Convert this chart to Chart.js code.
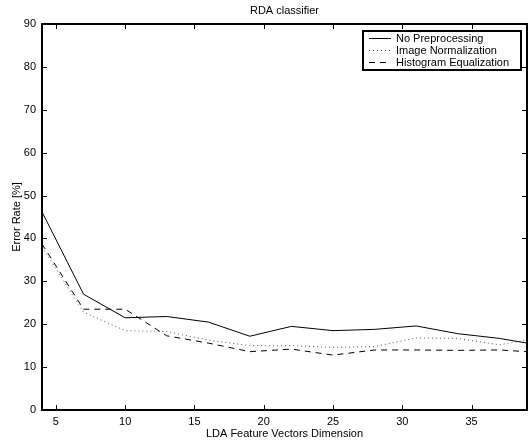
<!DOCTYPE html>
<html>
<head>
<meta charset="utf-8">
<script src="https://cdn.jsdelivr.net/npm/chart.js@4"></script>
<style>
html,body{margin:0;padding:0;background:#fff;}
#wrap{width:528px;height:445px;position:relative;}
</style>
</head>
<body>
<div id="wrap"><canvas id="c" width="528" height="445"></canvas></div>
<script>
const xValues = [4, 7, 10, 13, 16, 19, 22, 25, 28, 31, 34, 37, 39];
const noPreprocessing = [46.2, 27.0, 21.5, 21.8, 20.5, 17.2, 19.5, 18.5, 18.8, 19.6, 17.8, 16.7, 15.6];
const imageNormalization = [38.0, 22.8, 18.5, 18.3, 16.3, 15.0, 15.0, 14.6, 14.8, 16.8, 16.7, 15.2, 16.3];
const histogramEqualization = [38.7, 23.5, 23.5, 17.3, 15.6, 13.6, 14.2, 12.8, 14.0, 14.0, 13.9, 14.0, 13.6];
const xTickValues = [5, 10, 15, 20, 25, 30, 35];
const yTickValues = [0, 10, 20, 30, 40, 50, 60, 70, 80, 90];
const seriesLabels = ['No Preprocessing', 'Image Normalization', 'Histogram Equalization'];
const chartTitle = 'RDA classifier';

const FONT = 'Liberation Sans, Arial, Helvetica, sans-serif';

function pts(vals){ return xValues.map((x,i)=>({x:x,y:vals[i]})); }

const boxPlugin = {
  id:'boxPlugin',
  afterDraw(chart){
    const ctx = chart.ctx, a = chart.chartArea;
    const xs = chart.scales.x, ys = chart.scales.y;
    ctx.save();
    // title centred over plot area
    ctx.fillStyle = '#000';
    ctx.font = '11px ' + FONT;
    ctx.textAlign = 'center';
    ctx.textBaseline = 'middle';
    ctx.fillText(chartTitle, (a.left + a.right)/2, 10.5);
    ctx.strokeStyle = '#000';
    ctx.lineWidth = 1;
    // ticks
    ctx.beginPath();
    xTickValues.forEach(v=>{
      const px = Math.round(xs.getPixelForValue(v))+0.5;
      ctx.moveTo(px,a.bottom); ctx.lineTo(px,a.bottom-5);
      ctx.moveTo(px,a.top); ctx.lineTo(px,a.top+5);
    });
    yTickValues.forEach(v=>{
      const py = Math.round(ys.getPixelForValue(v))+0.5;
      ctx.moveTo(a.left,py); ctx.lineTo(a.left+5,py);
      ctx.moveTo(a.right,py); ctx.lineTo(a.right-5,py);
    });
    ctx.stroke();
    // box
    ctx.lineWidth = 2;
    ctx.strokeRect(a.left, a.top, a.right-a.left, a.bottom-a.top);
    // legend
    const lx = 363, ly = 31, lw = 158, lh = 39;
    ctx.fillStyle = '#fff';
    ctx.fillRect(lx,ly,lw,lh);
    ctx.lineWidth = 2;
    ctx.strokeRect(lx,ly,lw,lh);
    ctx.font = '11px ' + FONT;
    ctx.textBaseline = 'middle';
    ctx.textAlign = 'left';
    chart.data.datasets.forEach((ds,i)=>{
      const yy = ly + 7.5 + i*12;
      ctx.beginPath();
      ctx.lineWidth = 1;
      ctx.strokeStyle = ds.borderColor;
      ctx.setLineDash(ds.borderDash || []);
      ctx.moveTo(lx+6, yy); ctx.lineTo(lx+28, yy);
      ctx.stroke();
      ctx.setLineDash([]);
      ctx.fillStyle = '#000';
      ctx.fillText(ds.label, lx+33, yy+0.5);
    });
    ctx.restore();
  }
};

new Chart(document.getElementById('c'), {
  type:'line',
  data:{
    datasets:[
      {label:seriesLabels[0], data:pts(noPreprocessing), borderColor:'#000', borderWidth:1, pointRadius:0, tension:0, fill:false},
      {label:seriesLabels[1], data:pts(imageNormalization), borderColor:'#555', borderWidth:1, borderDash:[1,3], pointRadius:0, tension:0, fill:false},
      {label:seriesLabels[2], data:pts(histogramEqualization), borderColor:'#000', borderWidth:1, borderDash:[6,5], pointRadius:0, tension:0, fill:false}
    ]
  },
  options:{
    responsive:false,
    animation:false,
    layout:{padding:{left:0,right:1,top:24,bottom:0}},
    plugins:{
      legend:{display:false},
      tooltip:{enabled:false},
      title:{display:false}
    },
    scales:{
      x:{
        type:'linear', min:4, max:39,
        grid:{display:false, drawTicks:false, tickLength:0}, border:{display:false},
        afterBuildTicks(s){ s.ticks = xTickValues.map(v=>({value:v})); },
        afterFit(s){ s.height = 35; },
        ticks:{color:'#000', font:{family:FONT,size:11}, padding:5, maxRotation:0, autoSkip:false},
        title:{display:true, text:'LDA Feature Vectors Dimension', color:'#000', font:{family:FONT,size:11}, padding:{top:0,bottom:4}}
      },
      y:{
        type:'linear', min:0, max:90,
        grid:{display:false, drawTicks:false, tickLength:0}, border:{display:false},
        afterBuildTicks(s){ s.ticks = yTickValues.map(v=>({value:v})); },
        afterFit(s){ s.width = 42; },
        ticks:{color:'#000', font:{family:FONT,size:11}, padding:6},
        title:{display:true, text:'Error Rate [%]', color:'#000', font:{family:FONT,size:11}, padding:{top:10,bottom:0}}
      }
    }
  },
  plugins:[boxPlugin]
});
</script>
</body>
</html>
